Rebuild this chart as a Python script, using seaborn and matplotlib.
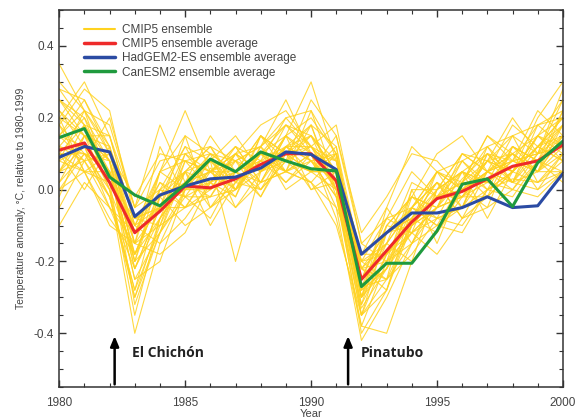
import numpy as np
import pandas as pd
import seaborn as sns
import matplotlib.pyplot as plt
from matplotlib.lines import Line2D
from matplotlib.ticker import MultipleLocator

years = list(range(1980, 2001))

# ensemble averages
cmip5_avg = [0.11, 0.13, 0.02, -0.12, -0.06, 0.01, 0.005, 0.03, 0.07, 0.10, 0.10,
             0.025, -0.25, -0.17, -0.09, -0.025, -0.005, 0.03, 0.065, 0.08, 0.125]
hadgem2_avg = [0.09, 0.12, 0.105, -0.075, -0.015, 0.01, 0.03, 0.035, 0.06, 0.105, 0.098,
               0.056, -0.18, -0.12, -0.065, -0.065, -0.05, -0.02, -0.05, -0.045, 0.045]
canesm2_avg = [0.145, 0.17, 0.035, -0.015, -0.045, 0.015, 0.085, 0.05, 0.105, 0.08, 0.058,
               0.052, -0.27, -0.205, -0.205, -0.115, 0.015, 0.03, -0.047, 0.075, 0.135]

# individual CMIP5 members (approximate)
members = [
    [0.35, 0.22, 0.10, -0.15, -0.05, 0.05, 0.02, 0.08, 0.12, 0.18, 0.15, 0.05, -0.30, -0.22, -0.10, 0.00, 0.05, 0.02, 0.10, 0.15, 0.20],
    [0.20, 0.30, 0.15, -0.10, 0.02, -0.05, 0.06, 0.00, 0.10, 0.05, 0.22, 0.10, -0.22, -0.15, -0.05, 0.02, -0.02, 0.08, 0.05, 0.12, 0.18],
    [0.05, 0.12, 0.05, -0.20, -0.12, -0.02, -0.08, 0.05, 0.02, 0.12, 0.08, -0.02, -0.35, -0.25, -0.18, -0.08, -0.10, 0.00, 0.03, 0.02, 0.10],
    [0.18, 0.10, -0.02, -0.30, -0.08, 0.08, 0.10, -0.05, 0.05, 0.15, 0.10, 0.08, -0.28, -0.12, -0.02, -0.05, 0.03, 0.10, 0.08, 0.05, 0.15],
    [-0.05, 0.08, 0.20, -0.05, 0.18, 0.02, 0.05, 0.10, 0.00, 0.08, 0.25, 0.15, -0.15, -0.20, -0.12, 0.05, 0.00, -0.05, 0.12, 0.08, 0.05],
    [0.10, 0.18, 0.00, -0.40, -0.15, -0.08, 0.02, -0.02, 0.15, 0.05, 0.02, -0.05, -0.42, -0.30, -0.15, -0.10, -0.05, 0.05, 0.00, 0.10, 0.12],
    [0.25, 0.15, 0.08, -0.12, 0.00, 0.12, 0.00, 0.05, 0.08, 0.20, 0.12, 0.02, -0.20, -0.08, 0.05, -0.02, 0.08, 0.02, 0.15, 0.10, 0.25],
    [0.08, 0.05, -0.08, -0.18, -0.02, -0.10, -0.05, 0.02, 0.10, 0.08, 0.05, 0.12, -0.25, -0.18, -0.08, 0.02, -0.08, -0.02, 0.05, 0.15, 0.08],
    [0.15, 0.25, 0.12, -0.08, -0.10, 0.05, 0.12, 0.08, -0.02, 0.12, 0.18, 0.00, -0.32, -0.10, -0.12, -0.05, 0.10, 0.05, 0.02, 0.18, 0.22],
    [0.02, 0.10, 0.05, -0.25, -0.20, 0.00, 0.08, -0.20, 0.05, 0.10, 0.00, 0.05, -0.20, -0.25, 0.00, -0.15, 0.02, 0.08, 0.10, 0.00, 0.05],
    [0.22, 0.12, -0.05, -0.15, 0.05, 0.22, 0.05, 0.12, 0.02, 0.15, 0.30, 0.08, -0.18, -0.05, 0.12, 0.05, -0.05, 0.12, 0.05, 0.20, 0.30],
    [0.12, 0.20, 0.02, -0.10, -0.05, -0.05, -0.02, 0.00, 0.12, 0.05, 0.10, -0.08, -0.38, -0.40, -0.20, -0.12, -0.02, 0.02, 0.08, 0.05, 0.10],
    [-0.10, 0.02, -0.05, -0.22, -0.08, 0.02, 0.10, 0.05, 0.08, 0.02, 0.08, 0.02, -0.30, -0.15, -0.20, 0.00, 0.05, -0.08, 0.05, 0.12, 0.08],
    [0.30, 0.22, 0.18, -0.05, 0.00, -0.02, 0.08, 0.15, 0.05, 0.10, 0.05, 0.15, -0.12, -0.02, 0.10, 0.08, 0.00, 0.05, 0.18, 0.12, 0.20],
    [0.05, 0.15, 0.08, -0.32, -0.12, 0.05, -0.10, 0.02, 0.00, 0.08, 0.15, 0.00, -0.28, -0.22, -0.05, -0.10, -0.12, 0.00, -0.02, 0.08, 0.02],
    [0.15, 0.08, 0.10, -0.02, 0.10, 0.08, 0.00, 0.10, 0.18, 0.22, 0.12, 0.05, -0.22, -0.28, -0.08, 0.00, 0.05, 0.10, 0.02, 0.05, 0.18],
    [0.00, 0.05, -0.10, -0.15, -0.18, -0.12, 0.02, -0.05, 0.02, 0.05, 0.02, -0.10, -0.35, -0.18, -0.12, -0.18, -0.08, -0.05, 0.00, -0.02, 0.05],
    [0.28, 0.18, 0.05, -0.20, 0.05, 0.15, 0.10, 0.08, 0.02, 0.15, 0.20, 0.10, -0.25, -0.10, -0.02, 0.10, 0.15, 0.05, 0.08, 0.22, 0.15],
    [0.10, 0.00, 0.12, -0.12, -0.05, 0.10, 0.05, -0.02, 0.12, 0.00, 0.05, 0.05, -0.30, -0.20, -0.15, -0.02, 0.02, 0.15, 0.10, 0.05, 0.12],
    [0.18, 0.28, 0.22, -0.08, -0.02, 0.02, 0.15, 0.05, 0.10, 0.18, 0.10, 0.02, -0.18, -0.12, -0.10, -0.05, -0.02, 0.08, 0.20, 0.10, 0.28],
    [0.08, 0.12, -0.02, -0.28, -0.10, -0.05, 0.00, 0.10, 0.05, 0.12, 0.05, 0.00, -0.40, -0.28, -0.05, 0.02, -0.05, 0.00, 0.05, 0.02, 0.08],
    [0.12, 0.10, 0.00, -0.18, 0.00, 0.05, -0.05, 0.05, 0.15, 0.08, 0.12, 0.18, -0.15, -0.08, -0.12, -0.08, 0.05, -0.02, 0.12, 0.08, 0.15],
    [0.20, 0.05, 0.05, -0.10, -0.15, 0.00, 0.05, 0.12, 0.02, 0.05, 0.18, -0.02, -0.33, -0.22, -0.02, -0.05, 0.08, 0.12, 0.02, 0.15, 0.10],
    [-0.02, 0.15, 0.15, -0.05, 0.08, 0.10, 0.12, 0.00, 0.08, 0.12, 0.08, 0.10, -0.22, -0.12, -0.08, 0.02, -0.08, 0.05, 0.10, 0.05, 0.22],
    [0.15, 0.22, 0.02, -0.35, -0.08, 0.02, 0.05, 0.05, 0.10, 0.10, 0.15, 0.05, -0.27, -0.25, -0.10, -0.02, 0.00, 0.05, 0.08, 0.10, 0.12],
    [0.05, 0.08, -0.05, -0.12, 0.02, -0.02, -0.02, 0.08, 0.05, 0.15, 0.00, 0.02, -0.25, -0.15, -0.05, -0.10, 0.02, 0.02, 0.00, 0.08, 0.18],
    [0.25, 0.20, 0.08, -0.18, -0.02, 0.12, 0.08, 0.02, 0.10, 0.02, 0.10, 0.05, -0.20, -0.18, -0.08, 0.05, 0.08, 0.00, 0.05, 0.12, 0.15],
    [0.10, 0.05, 0.02, -0.08, -0.05, 0.00, 0.02, 0.05, -0.02, 0.10, 0.12, 0.00, -0.30, -0.05, -0.15, -0.05, -0.02, 0.08, 0.15, 0.02, 0.05],
    [0.22, 0.15, 0.12, -0.15, 0.12, -0.02, 0.02, 0.10, 0.12, 0.25, 0.10, -0.05, -0.22, -0.20, 0.00, 0.00, 0.10, 0.08, 0.05, 0.15, 0.25],
    [0.00, 0.10, 0.08, -0.22, -0.05, 0.15, -0.05, 0.00, 0.05, 0.08, 0.05, 0.10, -0.35, -0.12, -0.05, -0.08, -0.05, 0.10, 0.02, 0.00, 0.10],
    [0.15, 0.12, 0.05, -0.25, -0.12, 0.08, 0.05, 0.00, 0.10, 0.15, 0.08, 0.02, -0.32, -0.18, -0.10, -0.05, 0.05, 0.02, 0.08, 0.10, 0.18],
    [0.28, 0.25, 0.10, -0.12, 0.05, 0.00, 0.10, 0.05, 0.15, 0.10, 0.18, 0.12, -0.20, -0.15, 0.02, -0.02, 0.02, 0.12, 0.15, 0.18, 0.12],
    [0.05, 0.18, 0.08, -0.18, -0.08, 0.02, -0.02, 0.10, 0.05, 0.18, 0.12, 0.05, -0.28, -0.22, -0.12, -0.05, -0.02, -0.02, 0.05, 0.12, 0.20],
    [0.12, 0.08, -0.02, -0.28, -0.02, 0.05, 0.08, 0.05, 0.00, 0.12, 0.15, 0.08, -0.25, -0.08, -0.05, 0.05, 0.00, 0.05, 0.10, 0.05, 0.15],
    [0.20, 0.15, 0.05, -0.15, -0.10, 0.10, 0.02, 0.12, 0.08, 0.05, 0.08, -0.02, -0.38, -0.20, -0.08, -0.12, 0.00, 0.08, 0.02, 0.12, 0.08],
    [0.08, 0.22, 0.12, -0.20, 0.00, -0.05, 0.05, 0.08, 0.12, 0.20, 0.22, 0.02, -0.22, -0.25, -0.15, 0.00, 0.10, 0.05, 0.12, 0.08, 0.22],
    [0.18, 0.05, 0.10, -0.08, -0.05, 0.05, 0.12, 0.02, 0.08, 0.08, 0.02, 0.10, -0.30, -0.10, -0.02, -0.08, -0.05, 0.10, 0.05, 0.15, 0.12],
    [0.02, 0.15, 0.00, -0.30, -0.12, 0.00, 0.00, 0.05, 0.10, 0.05, 0.10, 0.00, -0.35, -0.28, -0.10, -0.02, 0.05, 0.00, 0.12, 0.05, 0.05],
    [0.25, 0.18, 0.15, -0.10, 0.05, 0.08, 0.05, 0.10, 0.05, 0.12, 0.12, 0.08, -0.18, -0.18, -0.05, 0.05, 0.02, 0.15, 0.08, 0.18, 0.20],
    [0.10, 0.10, 0.05, -0.22, -0.05, 0.02, 0.08, 0.00, 0.15, 0.10, 0.05, 0.05, -0.27, -0.12, -0.08, -0.02, -0.02, 0.05, 0.02, 0.10, 0.15],
]

legend_labels = ["CMIP5 ensemble", "CMIP5 ensemble average",
                 "HadGEM2-ES ensemble average", "CanESM2 ensemble average"]
colors = ["#FFD21F", "#EE2A2A", "#2B4BA3", "#1F9A3E"]

eruptions = ["El Chichón", "Pinatubo"]
eruption_years = [1982.2, 1991.47]

sns.set_style("ticks")
plt.rcParams['font.family'] = ['Liberation Sans', 'DejaVu Sans']

fig = plt.figure(figsize=(5.75, 4.19), dpi=100)
ax = fig.add_axes([0.103, 0.076, 0.876, 0.90])

ens = pd.DataFrame([
    {"year": y, "anom": v, "member": i}
    for i, row in enumerate(members) for y, v in zip(years, row)
])
sns.lineplot(data=ens, x="year", y="anom", units="member", estimator=None,
             color=colors[0], lw=0.8, alpha=0.85, ax=ax, legend=False)

for vals, c in zip([cmip5_avg, hadgem2_avg, canesm2_avg], colors[1:]):
    sns.lineplot(x=years, y=vals, color=c, lw=2.2, ax=ax, legend=False)

ax.set_xlim(1980, 2000)
ax.set_ylim(-0.55, 0.5)
ax.xaxis.set_major_locator(MultipleLocator(5))
ax.xaxis.set_minor_locator(MultipleLocator(1))
ax.yaxis.set_major_locator(MultipleLocator(0.2))
ax.yaxis.set_minor_locator(MultipleLocator(0.05))
ax.set_yticks([-0.4, -0.2, 0.0, 0.2, 0.4])
ax.set_yticklabels(["-0.4", "-0.2", "0.0", "0.2", "0.4"])
ax.tick_params(which="both", direction="in", top=True, right=True,
               colors="#333333", labelcolor="#444444", labelsize=8.5)
ax.tick_params(which="major", length=5, width=1)
ax.tick_params(axis="x", which="major", pad=7)
ax.tick_params(which="minor", length=3, width=0.8)
for s in ax.spines.values():
    s.set_color("#333333")
    s.set_linewidth(1.1)

ax.set_xlabel("Year", fontsize=8, color="#444444", labelpad=0)
ax.set_ylabel("Temperature anomaly, °C, relative to 1980-1999", fontsize=7.5,
              color="#444444", labelpad=6)

for name, yr in zip(eruptions, eruption_years):
    ax.annotate("", xy=(yr, -0.40), xytext=(yr, -0.55),
                arrowprops=dict(arrowstyle="-|>,head_width=0.25,head_length=0.6",
                                color="black", lw=1.8))
    ax.text(yr + (0.7 if yr < 1990 else 0.5), -0.455, name, fontsize=10,
            fontweight="bold", color="#222222", va="center",
            family=["Open Sans", "DejaVu Sans"])

handles = [Line2D([], [], color=c, lw=2.5 if i else 1.5) for i, c in enumerate(colors)]
ax.legend(handles, legend_labels, loc="upper left", bbox_to_anchor=(0.04, 0.975),
          frameon=False, fontsize=8.5, handlelength=2.6, handletextpad=0.6,
          labelspacing=0.18, borderaxespad=0)
for t in ax.get_legend().get_texts():
    t.set_color("#444444")

fig.savefig("out.png", dpi=100)
